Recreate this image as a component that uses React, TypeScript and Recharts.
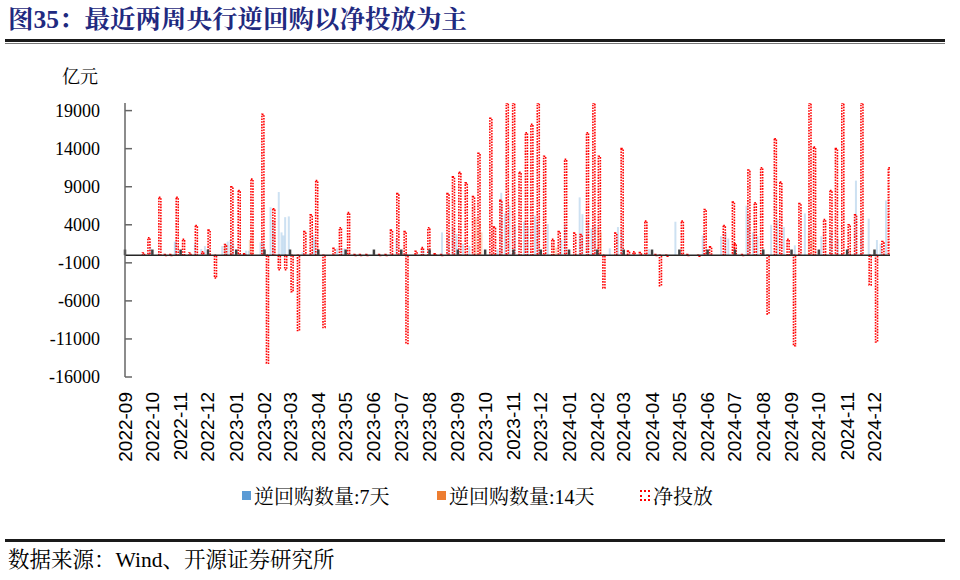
import React from 'react';
import { BarChart, Bar, XAxis, YAxis, ReferenceLine, Legend } from 'recharts';

// ---- data ----
const monthLabels = [
  '2022-09', '2022-10', '2022-11', '2022-12', '2023-01', '2023-02', '2023-03', '2023-04', '2023-05', '2023-06',
  '2023-07', '2023-08', '2023-09', '2023-10', '2023-11', '2023-12', '2024-01', '2024-02', '2024-03', '2024-04',
  '2024-05', '2024-06', '2024-07', '2024-08', '2024-09', '2024-10', '2024-11', '2024-12',
];
const yTicks = [-16000, -11000, -6000, -1000, 4000, 9000, 14000, 19000];
const axisStart = '2022-09-01';
const axisEnd = '2024-12-18';

const netDates = [
  '2022-09-21', '2022-09-27', '2022-10-09', '2022-10-15', '2022-10-21', '2022-10-28', '2022-11-04', '2022-11-11', '2022-11-18', '2022-11-25',
  '2022-12-02', '2022-12-09', '2022-12-20', '2022-12-27', '2023-01-04', '2023-01-10', '2023-01-18', '2023-01-30', '2023-02-04', '2023-02-11',
  '2023-02-17', '2023-02-24', '2023-03-03', '2023-03-10', '2023-03-17', '2023-03-24', '2023-03-30', '2023-04-07', '2023-04-18', '2023-04-25',
  '2023-05-04', '2023-05-11', '2023-05-17', '2023-05-24', '2023-06-07', '2023-06-14', '2023-06-20', '2023-06-27', '2023-07-05', '2023-07-07',
  '2023-07-17', '2023-07-24', '2023-07-31', '2023-08-07', '2023-08-14', '2023-08-21', '2023-08-27', '2023-09-03', '2023-09-10', '2023-09-18',
  '2023-09-24', '2023-10-07', '2023-10-11', '2023-10-18', '2023-10-25', '2023-11-01', '2023-11-08', '2023-11-15', '2023-11-21', '2023-11-28',
  '2023-12-05', '2023-12-14', '2023-12-21', '2023-12-28', '2024-01-07', '2024-01-14', '2024-01-21', '2024-01-28', '2024-02-03', '2024-02-08',
  '2024-02-21', '2024-02-28', '2024-03-06', '2024-03-12', '2024-03-19', '2024-03-25', '2024-04-05', '2024-04-10', '2024-04-17', '2024-05-04',
  '2024-05-10', '2024-05-22', '2024-05-29', '2024-06-04', '2024-06-19', '2024-06-29', '2024-07-01', '2024-07-09', '2024-07-16', '2024-07-23',
  '2024-07-30', '2024-08-06', '2024-08-14', '2024-08-20', '2024-08-28', '2024-09-04', '2024-09-10', '2024-09-21', '2024-09-26', '2024-10-07',
  '2024-10-14', '2024-10-20', '2024-10-27', '2024-11-03', '2024-11-10', '2024-11-17', '2024-11-26', '2024-12-03', '2024-12-10', '2024-12-17',
];
const netValues = [
  300, 2300, 7600, 100, 100, 7600, 2100, 300, 3900, 450,
  3300, -3000, 1400, 9000, 8500, 200, 10000, 18500, -14200, 6100,
  -1900, -1900, -4800, -9900, 3100, 5300, 9800, -9500, 900, 3600,
  5600, 100, 100, 100, 100, 100, 3300, 8100, 3100, -11600,
  500, 1000, 3600, 200, 100, 8100, 10300, 10900, 9500, 7700,
  13400, 18000, 3700, 7200, 20000, 20000, 10900, 16100, 17200, 20000,
  13000, 2100, 3100, 12600, 2900, 2700, 16100, 20000, 13000, -4300,
  2900, 14000, 550, 450, 350, 4500, 100, -4000, -100, 4500,
  100, -100, 6000, 1100, 3900, 7000, 1500, 100, 11200, 6900,
  11500, -7700, 15300, 9600, 2100, -11900, 6800, 20000, 14200, 4700,
  8500, 14000, 20000, 4000, 5300, 20000, -3900, -11400, 1800, 11500,
];

const repo7Dates = [
  '2022-09-29', '2022-10-26', '2022-10-27', '2022-11-17', '2022-11-24', '2022-11-28', '2022-12-17', '2022-12-20', '2022-12-23', '2022-12-26',
  '2022-12-29', '2023-01-12', '2023-01-15', '2023-01-28', '2023-01-31', '2023-02-08', '2023-02-11', '2023-02-17', '2023-02-20', '2023-02-22',
  '2023-02-24', '2023-02-28', '2023-03-15', '2023-03-27', '2023-03-29', '2023-04-22', '2023-04-27', '2023-04-30', '2023-06-26', '2023-07-25',
  '2023-08-15', '2023-08-22', '2023-08-27', '2023-08-31', '2023-09-07', '2023-09-14', '2023-10-15', '2023-10-19', '2023-10-23', '2023-10-28',
  '2023-11-03', '2023-11-13', '2023-11-17', '2023-11-25', '2023-11-28', '2023-12-09', '2023-12-24', '2023-12-28', '2024-01-13', '2024-01-16',
  '2024-01-22', '2024-01-26', '2024-01-30', '2024-02-15', '2024-02-24', '2024-02-28', '2024-03-29', '2024-04-27', '2024-05-27', '2024-06-16',
  '2024-06-21', '2024-06-24', '2024-07-14', '2024-07-17', '2024-07-21', '2024-07-26', '2024-08-10', '2024-08-17', '2024-08-24', '2024-09-05',
  '2024-09-16', '2024-10-04', '2024-10-15', '2024-10-22', '2024-11-11', '2024-11-17', '2024-11-25', '2024-12-04', '2024-12-08', '2024-12-14',
];
const repo7Values = [
  1100, 1800, 1700, 1500, 800, 1200, 1200, 1500, 1800, 2000,
  1500, 600, 600, 1700, 1700, 6300, 4400, 8300, 3000, 2600,
  5000, 5100, 400, 2700, 2000, 900, 900, 900, 2200, 800,
  3000, 2500, 3500, 2800, 1500, 1200, 800, 8200, 5500, 6500,
  4000, 4400, 3800, 5200, 4500, 4100, 2000, 4100, 7600, 5400,
  4400, 3500, 4000, 900, 3700, 3000, 800, 4400, 2600, 2500,
  3000, 2200, 6500, 5000, 3000, 2500, 4000, 4700, 3700, 1300,
  5500, 2500, 3000, 2200, 9800, 3500, 4800, 2000, 1500, 7200,
];

const repo14Dates = [
  '2022-12-20', '2022-12-26', '2023-01-16', '2023-01-19', '2023-09-21', '2023-09-25', '2023-09-27',
  '2023-12-15', '2023-12-18', '2024-02-02', '2024-02-05', '2024-09-20', '2024-09-24',
];
const repo14Values = [1400, 1200, 2000, 3000, 5000, 4500, 3000, 1300, 1000, 3700, 3000, 3000, 2500];

const seriesNames = { n7: '逆回购数量:7天', n14: '逆回购数量:14天', net: '净投放' };

// ---- helpers ----
const BASE = Date.UTC(2022, 8, 1);
const dayOf = (s: string) =>
  Math.round((Date.UTC(+s.slice(0, 4), +s.slice(5, 7) - 1, +s.slice(8, 10)) - BASE) / 86400000);

type Row = { d: number; n7?: number; n14?: number; net?: number };
const rowMap = new Map<number, Row>();
const put = (dates: string[], vals: number[], key: 'n7' | 'n14' | 'net') => {
  dates.forEach((s, i) => {
    const d = dayOf(s);
    const r = rowMap.get(d) ?? { d };
    r[key] = vals[i];
    rowMap.set(d, r);
  });
};
put(repo7Dates, repo7Values, 'n7');
put(repo14Dates, repo14Values, 'n14');
put(netDates, netValues, 'net');
const data = Array.from(rowMap.values()).sort((a, b) => a.d - b.d);

const monthTickDays = monthLabels.map((m) => dayOf(m + '-01'));
const labelByDay = new Map(monthTickDays.map((d, i) => [d, monthLabels[i]]));

const SERIF = "'Liberation Serif', 'Times New Roman', 'Noto Serif CJK SC', 'Noto Sans CJK SC', serif";

const makeShape = (key: 'n7' | 'n14' | 'net', w: number, style: any) => (props: any) => {
  const { x, y, width, height, payload } = props;
  const v = payload ? payload[key] : undefined;
  if (v == null || !isFinite(x) || !isFinite(y) || !isFinite(height)) return null;
  const cx = x + (width || 0) / 2;
  const top = Math.min(y, y + height);
  const h = Math.max(Math.abs(height), 1);
  return <rect x={cx - w / 2} y={top} width={w} height={h} {...style} />;
};

const BlueShape = makeShape('n7', 2, { fill: '#5B9BD5', fillOpacity: 0.3 });
const OrangeShape = makeShape('n14', 2, { fill: '#ED7D31', fillOpacity: 0.3 });
const NetShape = makeShape('net', 2, {
  fill: 'none',
  stroke: '#FF0000',
  strokeWidth: 1.6,
  strokeDasharray: '1.6 1.2',
});

const XTick = (props: any) => {
  const { x, y, payload } = props;
  return (
    <text
      x={x}
      y={y}
      transform={`rotate(-90, ${x}, ${y})`}
      textAnchor="end"
      dominantBaseline="central"
      fontSize={19}
      fontFamily="'Liberation Sans', Arial, sans-serif"
      fill="#000"
    >
      {labelByDay.get(payload.value) ?? ''}
    </text>
  );
};

const LegendContent = () => {
  const item = (left: number, icon: React.ReactNode, text: string) => (
    <div style={{ position: 'absolute', left, top: 0, display: 'flex', alignItems: 'center', whiteSpace: 'nowrap' }}>
      {icon}
      <span style={{ marginLeft: 3, fontSize: 20, fontFamily: SERIF, color: '#000' }}>{text}</span>
    </div>
  );
  return (
    <div style={{ position: 'relative', width: 960, height: 26 }}>
      {item(242, <span style={{ width: 9, height: 9, background: '#5B9BD5', display: 'inline-block' }} />, seriesNames.n7)}
      {item(437, <span style={{ width: 9, height: 9, background: '#ED7D31', display: 'inline-block' }} />, seriesNames.n14)}
      {item(
        640,
        <span
          style={{ width: 10, height: 11, border: '2px dotted #FF0000', display: 'inline-block', boxSizing: 'border-box' }}
        />,
        seriesNames.net,
      )}
    </div>
  );
};

export default function App() {
  return (
    <div style={{ position: 'absolute', left: 0, top: 0, width: 960, height: 580, background: '#fff', overflow: 'hidden' }}>
      <div
        style={{
          position: 'absolute', left: 8, top: 4, fontSize: 25.5, fontWeight: 'bold', color: '#1F2A80',
          fontFamily: SERIF, whiteSpace: 'nowrap', lineHeight: '32px',
        }}
      >
        图35：最近两周央行逆回购以净投放为主
      </div>
      <div style={{ position: 'absolute', left: 5, top: 39, width: 940, height: 2.5, background: '#1a1a1a' }} />
      <div style={{ position: 'absolute', left: 5, top: 43, width: 940, height: 1, background: '#777' }} />

      <div style={{ position: 'absolute', left: 62, top: 62, fontSize: 18, fontFamily: SERIF, color: '#000' }}>亿元</div>

      <div style={{ position: 'absolute', left: 0, top: 0 }}>
        <BarChart width={960} height={580} data={data} margin={{ top: 103, right: 70, bottom: 113, left: 0 }}>
          <XAxis
            type="number"
            dataKey="d"
            domain={[dayOf(axisStart), dayOf(axisEnd)]}
            ticks={monthTickDays}
            interval={0}
            tick={<XTick />}
            tickLine={false}
            axisLine={false}
            tickSize={0}
            tickMargin={15}
            height={90}
            allowDataOverflow
          />
          <YAxis
            type="number"
            domain={[-16000, 20000]}
            ticks={yTicks}
            interval={0}
            allowDataOverflow
            width={125}
            axisLine={{ stroke: '#666', strokeWidth: 1.5 }}
            tickLine={{ stroke: '#666', strokeWidth: 1.5 }}
            tickSize={-7}
            tickMargin={32}
            tick={{ fontSize: 18, fontFamily: SERIF, fill: '#000' }}
          />
          <Bar dataKey="n7" name={seriesNames.n7} barSize={1} shape={BlueShape} isAnimationActive={false} />
          <Bar dataKey="n14" name={seriesNames.n14} barSize={1} shape={OrangeShape} isAnimationActive={false} />
          <Bar dataKey="net" name={seriesNames.net} barSize={1} shape={NetShape} isAnimationActive={false} />
          <ReferenceLine y={0} stroke="#262626" strokeWidth={1.5} />
          {monthTickDays.map((d) => (
            <ReferenceLine
              key={d}
              segment={[{ x: d, y: 0 }, { x: d, y: 750 }]}
              stroke="#404040"
              strokeWidth={2.5}
            />
          ))}
          <Legend
            verticalAlign="middle"
            align="center"
            content={<LegendContent />}
            wrapperStyle={{ position: 'absolute', top: 481, left: 0, width: 960, height: 26 }}
          />
        </BarChart>
      </div>

      <div style={{ position: 'absolute', left: 5, top: 539, width: 940, height: 2.5, background: '#1a1a1a' }} />
      <div
        style={{
          position: 'absolute', left: 8, top: 545, fontSize: 21.5, fontFamily: SERIF, color: '#000',
          whiteSpace: 'nowrap', lineHeight: '30px',
        }}
      >
        数据来源：Wind、开源证券研究所
      </div>
    </div>
  );
}
